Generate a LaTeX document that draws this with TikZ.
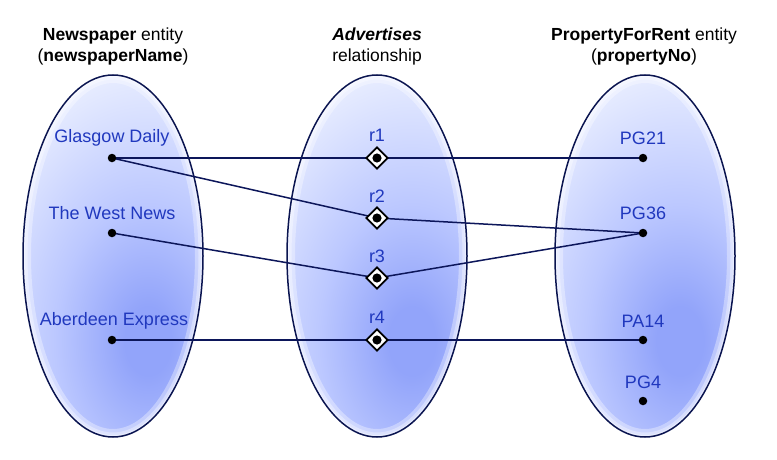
\documentclass[tikz,border=0pt]{standalone}
\usepackage{fontspec}
\setmainfont{Liberation Sans}
\usetikzlibrary{shapes.geometric}

\definecolor{navy}{RGB}{10,20,80}
\definecolor{wire}{RGB}{12,22,90}
\definecolor{ink}{RGB}{32,56,190}
\definecolor{deep}{RGB}{146,164,250}
\definecolor{mid}{RGB}{188,200,255}
\definecolor{pale}{RGB}{232,237,255}

% soft glow, darkest below and right of each oval's centre
\pgfdeclareradialshading{ovalglow}{\pgfpoint{0bp}{0bp}}{%
  color(0bp)=(deep); color(3bp)=(deep); color(12bp)=(mid);
  color(24bp)=(pale); color(50bp)=(pale)}

\pgfdeclarelayer{bg}
\pgfdeclarelayer{wires}
\pgfsetlayers{bg,wires,main}

\tikzset{
  oval/.style={fill=pale,
    path picture={\shade[shading=ovalglow]
      ([shift={(-160,-200)}]path picture bounding box.center) rectangle ++(390,570);}},
  rim/.style={draw=white, line width=#1, draw opacity=0.35},
  ovaledge/.style={draw=navy, line width=1.5pt},
  head/.style={font=\fontsize{17.5}{21}\selectfont, text=black, align=center},
  item/.style={font=\fontsize{18}{20}\selectfont, text=ink, inner sep=0pt},
  dot/.style={circle, fill=black, minimum size=8.5pt, inner sep=0pt},
  reln/.style={diamond, draw=black, line width=1.7pt, fill=white,
    minimum size=22pt, inner sep=0pt,
    path picture={\fill[black] (path picture bounding box.center) circle (4.6pt);}},
  link/.style={draw=wire, line width=1.5pt},
}

\begin{document}
\begin{tikzpicture}[x=1pt, y=-1pt]
\useasboundingbox (0,0) rectangle (777,460);

% column titles
\node[head] (hN) at (113,46) {\textbf{Newspaper} entity\\(\textbf{newspaperName})};
\node[head] (hA) at (377,46) {\textbf{\textit{Advertises}}\\relationship};
\node[head] (hP) at (644,46) {\textbf{PropertyForRent} entity\\(\textbf{propertyNo})};

% entity sets: shaded body, soft light rim, dark outline
\begin{pgfonlayer}{bg}
  \foreach \cx in {113,377,645} {
    \path[oval] (\cx,256) ellipse (90 and 181);
    \path[rim=16pt] (\cx,256) ellipse (90 and 181);
    \path[rim=9pt] (\cx,256) ellipse (90 and 181);
    \path[rim=4pt] (\cx,256) ellipse (90 and 181);
    \path[ovaledge] (\cx,256) ellipse (90 and 181);
  }
\end{pgfonlayer}

% newspapers
\node[dot] (n1) at (112,158) {};
\node[dot] (n2) at (112,233) {};
\node[dot] (n3) at (112,340) {};
\node[item] (ln1) at (112,138) {Glasgow Daily};
\node[item] (ln2) at (112,213) {The West News};
\node[item] (ln3) at (114,321) {Aberdeen Express};

% relationship occurrences
\node[reln] (r1) at (377,158) {};
\node[reln] (r2) at (377,218) {};
\node[reln] (r3) at (377,278) {};
\node[reln] (r4) at (377,340) {};
\node[item] (lr1) at (377,135) {r1};
\node[item] (lr2) at (377,196) {r2};
\node[item] (lr3) at (377,256) {r3};
\node[item] (lr4) at (377,317) {r4};

% properties
\node[dot] (p1) at (643,158) {};
\node[dot] (p2) at (643,233) {};
\node[dot] (p3) at (643,340) {};
\node[dot] (p4) at (643,401) {};
\node[item] (lp1) at (643,138) {PG21};
\node[item] (lp2) at (643,213) {PG36};
\node[item] (lp3) at (643,321) {PA14};
\node[item] (lp4) at (643,382) {PG4};

% connections
\begin{pgfonlayer}{wires}
  \draw[link] (n1.center) -- (r1.center) -- (p1.center);
  \draw[link] (n1.center) -- (r2.center) -- (p2.center);
  \draw[link] (n2.center) -- (r3.center) -- (p2.center);
  \draw[link] (n3.center) -- (r4.center) -- (p3.center);
\end{pgfonlayer}
\end{tikzpicture}
\end{document}
